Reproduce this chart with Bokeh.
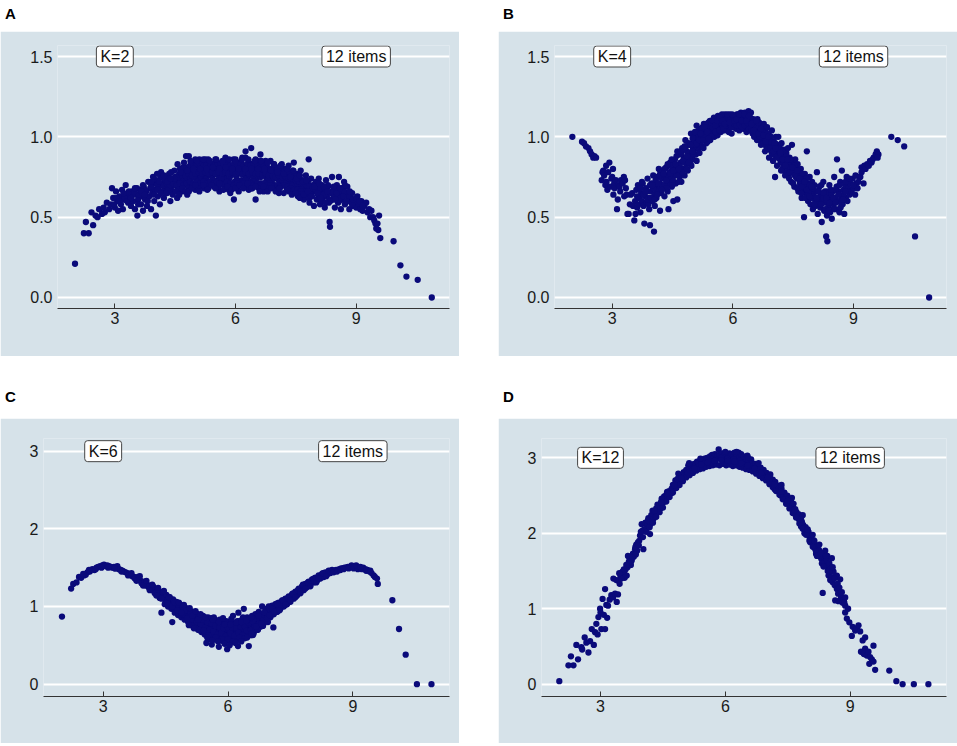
from bokeh.plotting import figure
from bokeh.models import Range1d, FixedTicker, PrintfTickFormatter, Label, Div, ColumnDataSource
from bokeh.layouts import column, row
from bokeh.embed import file_html
from bokeh.resources import INLINE

BG = "#d6e2e9"
DOT = "#0a0a7a"
FONT = "Liberation Sans"

panel_letters = ["A", "B", "C", "D"]
k_labels = ["K=2", "K=4", "K=6", "K=12"]
items_label = "12 items"
x_ticks = [3, 6, 9]
y_ticks_ab = [0, 0.5, 1.0, 1.5]
y_ticks_cd = [0, 1, 2, 3]

# ---------------- Panel A (K=2) ----------------
a_main = [
(2.01,0.21),(2.23,0.40),(2.35,0.40),(2.28,0.47),(2.46,0.45),(2.42,0.53),(2.52,0.51),(2.61,0.55),(2.57,0.50),(2.68,0.52),
(2.72,0.56),(2.80,0.59),(2.75,0.53),(2.86,0.55),(2.90,0.58),(2.93,0.68),(2.96,0.62),(3.00,0.56),(3.03,0.66),(3.06,0.60),
(3.08,0.54),(3.12,0.63),(3.15,0.58),(3.18,0.67),(3.20,0.55),(3.22,0.61),(3.27,0.70),(3.30,0.64),(3.33,0.59),(3.36,0.62),
(3.40,0.57),(3.43,0.66),(3.46,0.60),(3.50,0.55),(3.53,0.64),(3.56,0.51),(3.58,0.61),(3.62,0.67),(3.65,0.58),(3.68,0.63),
(3.70,0.54),(3.72,0.69),(3.75,0.61),(3.78,0.66),(3.80,0.57),(3.83,0.72),(3.86,0.63),(3.88,0.68),(3.90,0.55),(3.93,0.65),
(3.95,0.71),(3.98,0.60),(4.02,0.51),(4.00,0.67),(4.04,0.73),(4.07,0.63),(4.10,0.69),(4.12,0.58),(4.15,0.75),(4.18,0.66),
(4.20,0.71),(4.22,0.62),(4.25,0.68),(4.28,0.74),(4.30,0.65),(4.33,0.71),(4.35,0.77),(4.38,0.60),(4.40,0.69),(4.43,0.73),
(4.45,0.66),(4.48,0.79),(4.50,0.70),(4.52,0.75),(4.55,0.62),(4.57,0.68),(4.60,0.77),(4.62,0.72),(4.65,0.80),(4.67,0.66),
(4.70,0.74),(4.72,0.70),(4.75,0.78),(4.77,0.88),(4.80,0.64),(4.82,0.73),(4.84,0.88),(4.85,0.81),(4.87,0.69),(4.90,0.76),
(4.92,0.84),(4.95,0.71),(4.97,0.79),(5.00,0.67),(5.02,0.74),(5.05,0.82),(5.07,0.77),(5.10,0.86),(5.12,0.70),(5.15,0.79),
(5.17,0.74),(5.20,0.83),(5.22,0.68),(5.25,0.76),(5.27,0.81),(5.30,0.72),(5.32,0.86),(5.35,0.78),(5.37,0.70),(5.40,0.83),
(5.42,0.75),(5.45,0.80),(5.47,0.69),(5.50,0.77),(5.52,0.85),(5.55,0.73),(5.57,0.81),(5.60,0.66),(5.62,0.78),(5.65,0.84),
(5.67,0.72),(5.70,0.80),(5.72,0.75),(5.75,0.87),(5.77,0.70),(5.80,0.79),(5.82,0.83),(5.85,0.74),(5.87,0.65),(5.90,0.81),
(5.92,0.77),(5.95,0.86),(5.96,0.61),(5.98,0.72),(6.00,0.80),(6.02,0.75),(6.05,0.84),(6.07,0.69),(6.10,0.78),(6.12,0.82),
(6.15,0.73),(6.17,0.87),(6.20,0.77),(6.22,0.70),(6.25,0.91),(6.27,0.81),(6.30,0.75),(6.32,0.85),(6.35,0.72),(6.37,0.79),
(6.39,0.93),(6.40,0.83),(6.42,0.68),(6.45,0.77),(6.47,0.81),(6.50,0.61),(6.52,0.74),(6.55,0.85),(6.57,0.79),(6.60,0.71),
(6.62,0.89),(6.65,0.76),(6.67,0.82),(6.70,0.66),(6.72,0.78),(6.75,0.84),(6.77,0.73),(6.80,0.80),(6.82,0.69),(6.85,0.76),
(6.87,0.85),(6.90,0.72),(6.92,0.79),(6.95,0.83),(6.97,0.70),(7.00,0.77),(7.02,0.81),(7.05,0.74),(7.08,0.65),(7.10,0.79),
(7.12,0.72),(7.15,0.83),(7.17,0.76),(7.20,0.70),(7.22,0.80),(7.25,0.74),(7.27,0.68),(7.30,0.78),(7.32,0.82),(7.35,0.71),
(7.37,0.76),(7.40,0.66),(7.42,0.79),(7.45,0.84),(7.47,0.73),(7.50,0.69),(7.52,0.77),(7.55,0.63),(7.57,0.74),(7.60,0.70),
(7.62,0.79),(7.65,0.66),(7.67,0.73),(7.70,0.61),(7.72,0.70),(7.75,0.76),(7.77,0.64),(7.80,0.72),(7.82,0.86),(7.84,0.59),
(7.86,0.68),(7.88,0.74),(7.90,0.63),(7.92,0.70),(7.95,0.57),(7.97,0.66),(8.00,0.72),(8.02,0.61),(8.05,0.68),(8.07,0.74),
(8.10,0.58),(8.12,0.65),(8.15,0.70),(8.17,0.62),(8.20,0.67),(8.22,0.56),(8.25,0.73),(8.27,0.63),(8.30,0.69),(8.32,0.59),
(8.34,0.47),(8.35,0.44),(8.37,0.65),(8.40,0.75),(8.42,0.61),(8.45,0.67),(8.47,0.56),(8.50,0.63),(8.52,0.70),(8.55,0.59),
(8.57,0.75),(8.60,0.64),(8.62,0.55),(8.65,0.68),(8.67,0.61),(8.70,0.72),(8.72,0.58),(8.75,0.65),(8.78,0.69),(8.80,0.60),
(8.83,0.55),(8.85,0.63),(8.88,0.59),(8.90,0.65),(8.93,0.57),(8.96,0.61),(9.00,0.56),(9.03,0.63),(9.06,0.58),(9.10,0.55),
(9.13,0.60),(9.16,0.54),(9.20,0.57),(9.25,0.59),(9.28,0.53),(9.32,0.55),(9.35,0.50),(9.38,0.54),(9.42,0.50),(9.45,0.48),
(9.48,0.46),(9.50,0.43),(9.53,0.46),(9.55,0.42),(9.57,0.51),(9.60,0.37),(9.93,0.35),(10.10,0.20),(10.25,0.13),(10.53,0.11),
(10.88,0.00),
]
a_core = [
(4.53,0.72),(4.58,0.74),(4.63,0.70),(4.68,0.76),(4.73,0.72),(4.78,0.75),(4.83,0.77),(4.88,0.74),(4.93,0.78),(4.98,0.75),
(5.03,0.78),(5.08,0.73),(5.13,0.76),(5.18,0.79),(5.23,0.78),(5.28,0.75),(5.33,0.80),(5.38,0.76),(5.43,0.78),(5.48,0.82),
(5.53,0.79),(5.58,0.76),(5.63,0.81),(5.68,0.77),(5.73,0.79),(5.78,0.82),(5.83,0.78),(5.88,0.76),(5.93,0.79),(5.97,0.83),
(6.03,0.78),(6.08,0.81),(6.13,0.77),(6.18,0.80),(6.23,0.76),(6.28,0.79),(6.33,0.77),(6.38,0.81),(6.43,0.75),(6.48,0.79),
(6.53,0.77),(6.58,0.82),(6.63,0.75),(6.68,0.79),(6.73,0.76),(6.78,0.77),(6.83,0.74),(6.88,0.78),(6.93,0.75),(6.98,0.74),
(7.03,0.77),(7.08,0.73),(7.13,0.76),(7.18,0.73),(7.23,0.77),(7.28,0.72),(7.33,0.74),(7.38,0.73),(7.43,0.70),(7.48,0.76),
(7.53,0.71),(7.58,0.67),(7.63,0.72),(7.68,0.69),(7.73,0.66),(7.78,0.69),(4.47,0.70),(4.42,0.66),(4.37,0.69),(4.32,0.68),
(4.27,0.65),(4.23,0.70),(5.05,0.70),(5.25,0.72),(5.45,0.73),(5.65,0.74),(5.85,0.70),(6.05,0.72),(6.25,0.73),(6.45,0.72),
(6.65,0.71),(6.85,0.71),(5.15,0.84),(5.35,0.84),(5.55,0.83),(5.75,0.84),(5.95,0.82),(6.15,0.84),(6.35,0.83),(6.55,0.82),
(6.75,0.80),(6.95,0.80),(7.15,0.80),(4.85,0.70),(4.65,0.74),(7.35,0.68),(7.55,0.73),(7.85,0.65),(8.05,0.64),(8.25,0.66),
(8.45,0.63),(8.65,0.64),(8.15,0.60),(8.55,0.66),
]
a_fill = [
(4.21,0.70),(4.29,0.71),(4.37,0.70),(4.46,0.71),(4.54,0.70),(4.62,0.71),(4.71,0.70),(4.79,0.71),(4.87,0.72),(4.96,0.71),
(5.04,0.72),(5.12,0.71),(5.21,0.72),(5.29,0.71),(5.37,0.72),(5.46,0.71),(5.54,0.72),(5.62,0.71),(5.71,0.70),(5.79,0.72),
(5.87,0.71),(5.96,0.70),(6.04,0.71),(6.12,0.70),(6.21,0.71),(6.29,0.70),(6.37,0.71),(6.46,0.70),(6.54,0.71),(6.62,0.70),
(6.71,0.71),(6.79,0.70),(6.87,0.70),(6.96,0.69),(7.04,0.70),(7.12,0.69),(7.21,0.70),(7.29,0.69),(7.37,0.68),(7.46,0.67),
(7.54,0.67),(7.62,0.66),
(4.25,0.73),(4.33,0.74),(4.42,0.74),(4.50,0.75),(4.58,0.75),(4.67,0.76),(4.75,0.76),(4.83,0.77),(4.92,0.76),(5.00,0.77),
(5.08,0.78),(5.17,0.77),(5.25,0.78),(5.33,0.77),(5.42,0.78),(5.50,0.77),(5.58,0.78),(5.67,0.77),(5.75,0.78),(5.83,0.77),
(5.92,0.78),(6.00,0.77),(6.08,0.78),(6.17,0.77),(6.25,0.78),(6.33,0.77),(6.42,0.78),(6.50,0.77),(6.58,0.77),(6.67,0.76),
(6.75,0.77),(6.83,0.76),(6.92,0.76),(7.00,0.75),(7.08,0.76),(7.17,0.75),(7.25,0.75),(7.33,0.74),(7.42,0.74),(7.50,0.73),
(7.58,0.72),(7.67,0.71),(7.75,0.70),(7.83,0.69),(7.92,0.68),(8.00,0.67),
(4.62,0.80),(4.70,0.81),(4.79,0.81),(4.87,0.82),(4.96,0.82),(5.04,0.83),(5.12,0.83),(5.21,0.82),(5.29,0.83),(5.37,0.82),
(5.46,0.83),(5.54,0.82),(5.62,0.83),(5.71,0.82),(5.79,0.83),(5.87,0.82),(5.96,0.83),(6.04,0.82),(6.12,0.83),(6.21,0.82),
(6.29,0.83),(6.37,0.82),(6.46,0.83),(6.54,0.82),(6.62,0.81),(6.71,0.82),(6.79,0.81),(6.87,0.80),(6.96,0.81),(7.04,0.80),
(7.12,0.79),(7.21,0.79),(7.29,0.78),(7.37,0.77),
(4.58,0.67),(4.83,0.68),(5.08,0.68),(5.33,0.68),(5.58,0.69),(5.83,0.67),(6.08,0.66),(6.33,0.67),(6.58,0.68),(6.83,0.68),
(7.08,0.68),(7.33,0.66),(7.58,0.64),(7.83,0.62),(8.08,0.62),(8.33,0.61),(8.58,0.60),
(5.00,0.86),(5.25,0.86),(5.50,0.86),(5.75,0.86),(6.00,0.86),(6.25,0.87),(6.50,0.86),(6.75,0.85),
(8.00,0.70),(8.20,0.64),(8.40,0.66),(8.60,0.62),(8.80,0.63),(9.00,0.60),(8.10,0.68),(8.30,0.70),(8.50,0.68),(8.70,0.66),
(8.90,0.58),
(3.05,0.62),(3.25,0.62),(3.45,0.64),(3.60,0.64),(3.75,0.67),(3.90,0.69),(4.05,0.70),(3.35,0.66),(3.55,0.68),(3.95,0.75),
(4.15,0.78),(4.05,0.77),
]
a_more = [
(4.40,0.78),(4.48,0.74),(4.56,0.83),(4.64,0.78),(4.72,0.84),(4.80,0.79),(4.88,0.85),(4.96,0.80),(5.04,0.85),(5.12,0.80),
(5.20,0.86),(5.28,0.80),(5.36,0.85),(5.44,0.81),(5.52,0.86),(5.60,0.80),(5.68,0.85),(5.76,0.81),(5.84,0.86),(5.92,0.80),
(6.00,0.85),(6.08,0.80),(6.16,0.86),(6.24,0.80),(6.32,0.86),(6.40,0.80),(6.48,0.85),(6.56,0.80),(6.64,0.85),(6.72,0.80),
(6.80,0.84),(6.88,0.79),(6.96,0.83),(7.04,0.78),(7.12,0.82),(7.20,0.77),(7.28,0.80),(7.36,0.75),(7.44,0.79),(7.52,0.74),
(7.60,0.76),(7.68,0.72),(7.76,0.73),
(4.44,0.64),(4.52,0.66),(4.60,0.64),(4.68,0.68),(4.76,0.66),(4.84,0.66),(4.92,0.68),(5.00,0.70),(5.10,0.66),(5.20,0.70),
(5.30,0.67),(5.40,0.70),(5.50,0.68),(5.60,0.71),(5.70,0.67),(5.80,0.69),(5.90,0.67),(6.00,0.68),(6.10,0.70),(6.20,0.68),
(6.30,0.71),(6.40,0.68),(6.50,0.69),(6.60,0.66),(6.70,0.69),(6.80,0.66),(6.90,0.68),(7.00,0.66),(7.10,0.68),(7.20,0.65),
(7.30,0.67),(7.40,0.64),(7.50,0.65),(7.60,0.62),(7.70,0.64),
(7.80,0.66),(7.88,0.63),(7.96,0.69),(8.04,0.65),(8.12,0.62),(8.20,0.69),(8.28,0.66),(8.36,0.60),(8.44,0.69),(8.52,0.65),
(8.60,0.68),(8.68,0.63),(8.76,0.60),(8.84,0.66),(8.92,0.61),(9.00,0.62),(9.08,0.60),(9.16,0.57),(8.24,0.59),(8.48,0.61),
(8.72,0.70),(8.08,0.71),
(2.98,0.58),(3.10,0.60),(3.22,0.65),(3.30,0.60),(3.40,0.62),(3.48,0.66),(3.58,0.58),(3.66,0.66),(3.74,0.64),(3.82,0.60),
(3.90,0.72),(3.98,0.64),(4.06,0.67),(4.14,0.65),(4.22,0.76),(4.30,0.72),(4.38,0.74),(3.70,0.70),(3.50,0.68),(4.10,0.72),
]

# ---------------- Panel B (K=4) ----------------
b_main = [
(2.01,1.00),(2.25,0.97),(2.30,0.96),(2.35,0.94),(2.41,0.93),(2.45,0.91),(2.49,0.89),(2.53,0.87),(2.56,0.88),(2.60,0.87),
(2.74,0.73),(2.76,0.78),(2.78,0.79),(2.80,0.76),(2.83,0.70),(2.85,0.82),(2.86,0.72),(2.88,0.67),(2.90,0.78),(2.93,0.84),
(2.95,0.69),(2.98,0.74),(3.00,0.75),(3.02,0.80),(3.03,0.64),(3.05,0.71),(3.06,0.68),(3.09,0.73),(3.12,0.55),(3.14,0.61),
(3.16,0.70),(3.18,0.69),(3.20,0.66),(3.22,0.73),(3.26,0.71),(3.29,0.75),(3.30,0.63),(3.32,0.73),(3.34,0.68),(3.36,0.64),
(3.38,0.52),(3.41,0.52),(3.44,0.58),(3.46,0.64),(3.50,0.65),(3.52,0.57),(3.55,0.48),(3.57,0.60),(3.60,0.67),(3.62,0.56),
(3.64,0.70),(3.66,0.58),(3.68,0.62),(3.70,0.53),(3.72,0.65),(3.74,0.60),(3.76,0.71),(3.78,0.57),(3.80,0.46),(3.82,0.63),
(3.84,0.68),(3.86,0.59),(3.88,0.74),(3.90,0.62),(3.92,0.55),(3.94,0.45),(3.96,0.66),(3.98,0.71),(4.00,0.60),(4.02,0.76),
(4.04,0.41),(4.05,0.64),(4.08,0.69),(4.10,0.62),(4.12,0.75),(4.14,0.67),(4.16,0.80),(4.18,0.71),(4.19,0.54),(4.22,0.65),
(4.24,0.74),(4.26,0.79),(4.28,0.69),(4.30,0.63),(4.32,0.76),(4.34,0.81),(4.36,0.72),(4.38,0.66),(4.40,0.55),(4.42,0.78),
(4.44,0.84),(4.46,0.73),(4.48,0.69),(4.50,0.80),(4.52,0.60),(4.54,0.76),(4.56,0.86),(4.58,0.71),(4.60,0.82),(4.62,0.61),
(4.64,0.77),(4.66,0.89),(4.68,0.75),(4.70,0.84),(4.72,0.72),(4.74,0.93),(4.76,0.80),(4.78,0.87),(4.80,0.76),(4.82,0.98),
(4.84,0.83),(4.86,0.91),(4.88,0.79),(4.90,0.88),(4.92,0.95),(4.94,0.84),(4.96,1.02),(4.98,0.90),(5.00,0.86),(5.02,0.96),
(5.04,0.92),(5.06,1.00),(5.08,0.89),(5.10,1.07),(5.12,0.97),(5.14,0.93),(5.16,1.02),(5.18,0.95),(5.20,1.05),(5.22,0.99),
(5.24,0.94),(5.26,1.03),(5.28,1.08),(5.30,0.98),(5.32,1.04),(5.34,0.96),(5.36,1.07),(5.38,1.01),(5.40,1.09),(5.42,1.03),
(5.44,0.98),(5.46,1.06),(5.48,1.10),(5.50,1.02),(5.52,1.07),(5.54,1.00),(5.56,1.11),(5.58,1.05),(5.60,1.09),(5.62,1.01),
(5.64,1.12),(5.66,1.06),(5.68,1.10),(5.70,1.03),(5.72,1.13),(5.74,1.07),(5.76,1.11),(5.78,1.04),(5.80,1.14),(5.82,1.08),
(5.84,1.12),(5.86,1.06),(5.88,1.10),(5.90,1.03),(5.92,1.14),(5.94,1.08),(5.96,1.12),(5.97,1.02),(6.00,1.09),(6.02,1.13),
(6.04,1.06),(6.06,1.11),(6.08,1.05),(6.10,1.14),(6.12,1.08),(6.14,1.12),(6.16,1.04),(6.18,1.10),(6.20,1.15),(6.22,1.07),
(6.24,1.12),(6.26,1.05),(6.28,1.10),(6.30,1.15),(6.32,1.08),(6.34,1.03),(6.36,1.12),(6.38,1.06),(6.39,1.16),(6.41,1.10),
(6.43,1.04),(6.45,1.15),(6.47,1.08),(6.49,1.02),(6.51,1.11),(6.53,1.06),(6.55,1.09),(6.57,1.01),(6.59,1.07),(6.61,1.11),
(6.63,1.04),(6.65,0.98),(6.67,1.08),(6.69,1.02),(6.71,1.06),(6.73,0.97),(6.75,1.04),(6.77,1.08),(6.79,0.99),(6.81,1.03),
(6.83,0.94),(6.85,1.06),(6.87,0.98),(6.89,1.02),(6.91,0.92),(6.93,1.00),(6.95,0.95),(6.97,1.04),(6.99,0.89),(7.01,0.97),
(7.03,0.93),(7.05,0.75),(7.07,1.00),(7.09,0.90),(7.11,0.95),(7.13,1.00),(7.15,0.87),(7.17,0.93),(7.19,0.84),(7.21,0.96),
(7.23,0.89),(7.25,0.81),(7.27,0.92),(7.29,0.86),(7.31,0.78),(7.33,0.90),(7.35,0.84),(7.37,0.93),(7.39,0.76),(7.41,0.87),
(7.43,0.81),(7.45,0.72),(7.47,0.95),(7.49,0.84),(7.51,0.78),(7.53,0.69),(7.55,0.86),(7.57,0.80),(7.59,0.74),(7.61,0.83),
(7.63,0.66),(7.65,0.77),(7.67,0.71),(7.69,0.80),(7.71,0.62),(7.73,0.74),(7.75,0.68),(7.77,0.50),(7.79,0.77),(7.81,0.65),
(7.84,0.91),(7.85,0.71),(7.87,0.60),(7.89,0.68),(7.91,0.75),(7.93,0.58),(7.95,0.65),(7.97,0.72),(7.99,0.55),(8.01,0.63),
(8.03,0.70),(8.05,0.57),(8.07,0.66),(8.09,0.78),(8.11,0.52),(8.13,0.61),(8.15,0.69),(8.17,0.56),(8.19,0.64),(8.21,0.47),
(8.23,0.60),(8.25,0.72),(8.27,0.54),(8.29,0.66),(8.31,0.59),(8.32,0.38),(8.34,0.51),(8.35,0.35),(8.36,0.63),(8.38,0.57),
(8.40,0.70),(8.42,0.53),(8.44,0.61),(8.46,0.49),(8.48,0.66),(8.50,0.58),(8.52,0.75),(8.54,0.62),(8.56,0.55),(8.58,0.69),
(8.59,0.86),(8.61,0.60),(8.63,0.66),(8.65,0.53),(8.67,0.72),(8.69,0.63),(8.71,0.79),(8.73,0.58),(8.75,0.67),(8.77,0.52),
(8.79,0.70),(8.81,0.62),(8.83,0.75),(8.85,0.60),(8.87,0.68),(8.90,0.64),(8.92,0.71),(8.95,0.66),(8.98,0.74),(9.01,0.68),
(9.04,0.64),(9.07,0.71),(9.10,0.68),(9.14,0.75),(9.17,0.75),(9.20,0.81),(9.25,0.71),(9.27,0.82),(9.30,0.80),(9.34,0.83),
(9.38,0.82),(9.41,0.85),(9.45,0.84),(9.48,0.86),(9.50,0.87),(9.55,0.89),(9.58,0.91),(9.62,0.89),(9.60,0.87),
(9.94,1.00),(10.10,0.98),(10.26,0.94),(10.53,0.38),(10.88,0.00),
]
b_core = [
(5.01,0.93),(5.11,0.99),(5.21,1.01),(5.31,1.02),(5.41,1.05),(5.51,1.06),(5.61,1.07),(5.71,1.08),(5.81,1.10),(5.91,1.10),
(6.01,1.11),(6.11,1.10),(6.21,1.10),(6.31,1.11),(6.41,1.07),(6.51,1.06),(6.61,1.05),(6.71,1.03),(6.81,1.00),(6.91,0.97),
(7.01,0.94),(7.11,0.91),(7.21,0.88),(7.31,0.85),(7.41,0.82),(7.51,0.80),(4.71,0.80),(4.81,0.85),(4.91,0.90),(5.05,0.96),
(5.15,1.04),(5.25,1.06),(5.35,1.00),(5.45,1.08),(5.55,1.04),(5.65,1.10),(5.75,1.06),(5.85,1.09),(5.95,1.06),(6.05,1.08),
(6.15,1.07),(6.25,1.09),(6.35,1.09),(6.45,1.10),(6.55,1.03),(6.65,1.09),(6.75,1.00),(6.85,1.02),(6.95,1.00),(7.05,0.96),
(7.15,0.90),(7.25,0.86),(4.61,0.76),(4.51,0.73),(4.41,0.70),(4.31,0.70),(4.21,0.68),(4.11,0.66),(7.61,0.76),(7.71,0.72),
]
b_fill = [
(4.20,0.78),(4.25,0.70),(4.30,0.80),(4.35,0.68),(4.40,0.75),(4.45,0.82),(4.50,0.70),(4.55,0.79),(4.60,0.88),(4.65,0.72),
(4.68,0.82),(4.72,0.90),(4.75,0.78),(4.80,0.86),(4.83,0.94),(4.86,0.80),(4.90,0.96),(4.93,0.87),(4.97,0.82),(5.00,0.99),
(5.03,0.89),(5.07,0.95),(5.10,0.85),(5.13,1.02),(5.17,0.90),(5.20,0.97),(5.23,1.05),(5.27,0.93),(5.30,1.01),(5.33,1.08),
(5.37,0.97),(5.40,1.03),(5.43,1.10),(5.47,1.00),(5.50,1.06),(5.53,1.12),(5.57,1.03),(5.60,1.08),(5.63,1.13),(5.67,1.04),
(5.70,1.09),(5.73,1.14),(5.77,1.05),(5.80,1.11),(5.83,1.07),(5.87,1.13),(5.90,1.08),(5.93,1.11),(5.97,1.06),(6.00,1.13),
(6.03,1.08),(6.07,1.12),(6.10,1.07),(6.13,1.14),(6.17,1.08),(6.20,1.12),(6.23,1.06),(6.27,1.13),(6.30,1.07),(6.33,1.12),
(6.37,1.09),(6.40,1.05),(6.43,1.12),(6.47,1.04),(6.50,1.09),(6.53,1.00),(6.57,1.06),(6.60,0.98),(6.63,1.09),(6.67,1.00),
(6.70,0.95),(6.73,1.04),(6.77,0.96),(6.80,0.91),(6.83,1.00),(6.87,0.93),(6.90,0.87),(6.93,0.97),(6.97,0.90),(7.00,0.85),
(7.03,0.96),(7.07,0.88),(7.10,0.82),(7.13,0.93),(7.17,0.86),(7.20,0.79),(7.23,0.91),(7.27,0.84),(7.30,0.76),(7.33,0.88),
(7.37,0.81),(7.40,0.74),(7.43,0.86),(7.47,0.78),(7.50,0.71),(7.53,0.82),(7.57,0.75),(7.60,0.68),(7.63,0.79),(7.67,0.72),
(7.70,0.65),(7.73,0.77),(7.77,0.69),(7.80,0.62),(7.83,0.74),(7.87,0.66),(7.90,0.70),(7.95,0.62),(8.00,0.68),(8.05,0.60),
(8.10,0.66),(8.15,0.58),(8.20,0.70),(8.25,0.62),(8.30,0.55),(8.35,0.66),(8.40,0.59),(8.45,0.64),(8.50,0.55),(8.55,0.67),
(8.60,0.60),(8.65,0.70),(8.70,0.58),(8.75,0.64),(8.80,0.72),(8.85,0.66),(8.90,0.74),(9.00,0.70),(9.05,0.76),(9.12,0.72),
(9.20,0.78),
(3.62,0.63),(3.70,0.68),(3.78,0.64),(3.86,0.66),(3.94,0.70),(4.02,0.68),(4.08,0.73),(4.14,0.71),(3.74,0.72),(3.90,0.58),
(4.06,0.57),(3.58,0.52),
]
b_more = [
(3.82,0.66),(3.88,0.61),(3.96,0.62),(4.00,0.70),(4.06,0.61),(4.12,0.64),(4.18,0.76),(4.24,0.67),(4.28,0.77),(4.34,0.73),
(4.38,0.83),(4.44,0.77),(4.48,0.86),(4.52,0.79),(4.58,0.83),(4.62,0.91),(4.66,0.80),(4.70,0.91),(4.76,0.85),(4.80,0.94),
(4.86,0.88),(4.90,0.84),(4.96,0.95),(5.00,0.91),(5.06,1.03),(5.10,0.96),(5.16,0.98),(5.20,1.02),(5.26,0.98),(5.30,1.06),
(5.36,1.03),(5.40,0.99),(5.46,1.09),(5.50,1.10),(5.56,1.07),(5.62,1.10),(5.68,1.12),(5.74,1.10),(5.80,1.08),(5.86,1.14),
(5.92,1.09),(5.98,1.14),(6.04,1.10),(6.10,1.11),(6.16,1.14),(6.22,1.10),(6.28,1.14),(6.34,1.10),(6.40,1.13),(6.46,1.08),
(6.52,1.04),(6.58,1.10),(6.64,1.02),(6.70,1.05),(6.76,1.01),(6.82,0.97),(6.88,1.00),(6.94,0.93),(7.00,0.91),(7.06,0.93),
(7.12,0.87),(7.18,0.90),(7.24,0.86),(7.30,0.82),(7.36,0.86),(7.42,0.78),(7.48,0.81),(7.54,0.76),(7.60,0.79),(7.66,0.74),
(7.72,0.69),(7.78,0.72),(7.84,0.67),(7.90,0.63),(7.96,0.69),(8.02,0.58),(8.08,0.62),(8.14,0.66),(8.20,0.58),(8.26,0.65),
(8.32,0.62),(8.38,0.54),(8.44,0.67),(8.50,0.62),(8.56,0.59),(8.62,0.64),(8.68,0.56),(8.74,0.61),(8.80,0.66),
]

# ---------------- Panel C (K=6) ----------------
c_main = [
(2.01,0.87),(2.23,1.23),(2.28,1.29),(2.36,1.31),(2.42,1.38),(2.47,1.37),(2.54,1.40),(2.58,1.41),(2.62,1.44),(2.68,1.45),
(2.74,1.48),(2.79,1.47),(2.84,1.50),(2.88,1.51),(2.93,1.52),(2.98,1.53),(3.02,1.54),(3.06,1.52),(3.10,1.53),(3.14,1.52),
(3.18,1.51),(3.22,1.50),(3.26,1.51),(3.30,1.49),(3.34,1.52),(3.38,1.48),(3.42,1.47),(3.46,1.46),(3.50,1.45),(3.54,1.44),
(3.58,1.43),(3.62,1.42),(3.66,1.41),(3.70,1.39),(3.74,1.38),(3.78,1.37),(3.82,1.35),(3.86,1.36),(3.90,1.33),(3.94,1.32),
(3.98,1.30),(4.02,1.27),(4.06,1.28),(4.10,1.24),(4.14,1.25),(4.18,1.21),(4.22,1.22),(4.26,1.18),(4.30,1.20),(4.34,1.15),
(4.38,1.17),(4.40,0.92),(4.42,1.12),(4.46,1.14),(4.50,1.08),(4.54,1.10),(4.58,1.05),(4.62,1.07),(4.66,0.80),(4.70,1.03),
(4.74,0.99),(4.78,1.01),(4.82,0.96),(4.86,0.98),(4.90,0.93),(4.94,0.95),(4.98,0.90),(5.02,0.92),(5.06,0.87),(5.10,0.89),
(5.14,0.84),(5.18,0.86),(5.22,0.81),(5.26,0.83),(5.30,0.79),(5.34,0.81),(5.38,0.77),(5.42,0.79),(5.46,0.75),(5.48,0.53),
(5.50,0.77),(5.54,0.73),(5.58,0.75),(5.61,0.51),(5.62,0.71),(5.66,0.73),(5.70,0.69),(5.74,0.71),(5.78,0.48),(5.80,0.68),
(5.84,0.70),(5.88,0.66),(5.92,0.69),(5.96,0.65),(5.98,0.45),(6.00,0.68),(6.04,0.64),(6.08,0.67),(6.12,0.65),(6.16,0.68),
(6.20,0.66),(6.24,0.49),(6.25,0.92),(6.28,0.69),(6.32,0.67),(6.36,0.71),(6.38,0.97),(6.40,0.69),(6.44,0.73),(6.48,0.71),
(6.50,0.49),(6.52,0.75),(6.56,0.74),(6.60,0.78),(6.64,0.77),(6.68,0.81),(6.72,0.80),(6.76,0.84),(6.80,0.83),(6.82,1.00),
(6.84,0.87),(6.88,0.87),(6.92,0.90),(6.96,0.91),(7.00,0.94),(7.04,0.95),(7.08,0.98),(7.09,0.73),
(7.12,0.96),(7.16,0.98),(7.20,0.99),(7.24,1.01),(7.28,1.03),(7.32,1.04),(7.36,1.05),(7.40,1.06),(7.44,1.08),(7.48,1.09),
(7.52,1.11),(7.56,1.13),(7.60,1.15),(7.64,1.17),(7.68,1.18),(7.72,1.20),(7.76,1.22),(7.80,1.24),(7.84,1.25),(7.88,1.27),
(7.92,1.28),(7.96,1.30),(8.00,1.31),(8.04,1.32),(8.08,1.34),(8.12,1.35),(8.16,1.37),(8.20,1.38),(8.24,1.39),(8.28,1.40),
(8.32,1.41),(8.36,1.42),(8.40,1.43),(8.44,1.44),(8.48,1.45),(8.52,1.45),(8.56,1.46),(8.60,1.47),(8.64,1.47),(8.68,1.48),
(8.72,1.49),(8.76,1.49),(8.80,1.50),(8.84,1.50),(8.88,1.51),(8.92,1.51),(8.97,1.53),(9.00,1.51),(9.05,1.50),(9.10,1.51),
(9.15,1.50),(9.20,1.49),(9.25,1.50),(9.30,1.48),(9.35,1.47),(9.40,1.45),(9.45,1.43),(9.50,1.40),(9.53,1.38),(9.58,1.36),
(9.60,1.29),(9.95,1.08),(10.11,0.71),(10.27,0.38),(10.54,0.00),(10.89,0.00),
]
c_fill = [
(4.20,1.26),(4.24,1.17),(4.32,1.22),(4.36,1.11),(4.44,1.19),(4.48,1.03),(4.52,1.15),(4.56,1.00),(4.60,1.12),(4.64,0.97),
(4.68,1.09),(4.72,0.92),(4.76,1.06),(4.80,0.89),(4.84,1.03),(4.88,0.86),(4.92,1.00),(4.96,0.83),(5.00,0.98),(5.04,0.80),
(5.08,0.95),(5.12,0.76),(5.16,0.93),(5.20,0.74),(5.24,0.91),(5.28,0.70),(5.32,0.89),(5.36,0.67),(5.40,0.88),(5.44,0.64),
(5.52,0.86),(5.56,0.62),(5.60,0.85),(5.64,0.60),(5.68,0.83),(5.72,0.58),(5.76,0.81),(5.82,0.56),(5.86,0.79),(5.90,0.55),
(5.94,0.80),(5.99,0.57),(6.02,0.78),(6.06,0.54),(6.10,0.80),(6.14,0.56),(6.18,0.77),(6.22,0.57),(6.27,0.81),(6.30,0.58),
(6.34,0.83),(6.42,0.62),(6.46,0.86),(6.54,0.63),(6.58,0.88),(6.62,0.66),(6.66,0.90),(6.70,0.70),(6.74,0.93),(6.78,0.74),
(6.86,0.78),(6.90,0.97),(6.94,0.82),(6.98,1.00),(7.02,0.86),(7.06,1.01),(7.10,0.90),(7.14,1.03),(7.18,0.93),(7.22,1.05),
(7.26,0.97),(7.30,1.08),(7.34,1.00),(7.38,1.10),(7.42,1.03),(7.46,1.13),(7.50,1.06),(7.54,1.16),(7.58,1.10),(7.62,1.19),
(7.66,1.14),(7.70,1.23),(7.74,1.17),(7.78,1.26),(7.82,1.21),(7.86,1.29),(7.90,1.25),(7.94,1.32),(7.98,1.28),(8.02,1.35),
(8.06,1.31),(8.10,1.37),(8.14,1.33),(8.18,1.40),(8.22,1.36),(8.26,1.42),(8.30,1.38),(8.34,1.44),(8.38,1.41),(8.42,1.46),
(8.46,1.43),(8.50,1.47),(8.54,1.44),(8.62,1.45),(8.70,1.47),(8.78,1.48),
(5.50,0.70),(5.55,0.80),(5.65,0.66),(5.75,0.76),(5.85,0.63),(5.95,0.73),(6.05,0.61),(6.15,0.72),(6.25,0.62),(6.35,0.75),
(6.45,0.66),(6.55,0.81),(6.65,0.71),(6.75,0.88),(5.45,0.84),(5.35,0.74),(5.25,0.77),(5.15,0.80),(5.05,0.83),(4.95,0.88),
(5.85,0.75),(6.05,0.71),(6.20,0.75),(5.70,0.78),(5.60,0.66),(6.40,0.78),(6.60,0.72),(6.85,0.91),(6.95,0.87),(5.90,0.60),
(6.10,0.59),(6.30,0.64),(5.80,0.62),(5.40,0.71),(5.20,0.78),(4.90,0.90),(6.50,0.69),(6.70,0.76),
(2.52,1.42),(2.66,1.47),(2.82,1.48),(2.96,1.50),(3.12,1.50),(3.28,1.49),(3.44,1.45),(3.60,1.40),(3.76,1.36),(3.92,1.30),
(4.08,1.26),(3.68,1.43),(3.84,1.38),(4.00,1.32),(4.16,1.24),
(8.90,1.49),(9.02,1.49),(9.12,1.48),(9.22,1.48),(9.32,1.46),(9.42,1.46),(9.08,1.53),(9.18,1.51),
]
c_core = [
(4.60,1.10),(4.65,1.02),(4.70,1.07),(4.75,0.99),(4.80,1.02),(4.85,0.94),(4.90,0.99),(4.95,0.90),(5.00,0.95),(5.05,0.87),
(5.10,0.92),(5.15,0.83),(5.20,0.89),(5.25,0.80),(5.30,0.86),(5.35,0.77),(5.40,0.83),(5.45,0.73),(5.50,0.80),(5.55,0.70),
(5.60,0.78),(5.65,0.68),(5.70,0.75),(5.75,0.64),(5.80,0.73),(5.85,0.66),(5.90,0.72),(5.95,0.62),(6.00,0.72),(6.05,0.66),
(6.10,0.73),(6.15,0.62),(6.20,0.72),(6.25,0.66),(6.30,0.74),(6.35,0.63),(6.40,0.75),(6.45,0.69),(6.50,0.79),(6.55,0.70),
(6.60,0.81),(6.65,0.74),(6.70,0.85),(6.75,0.78),(6.80,0.88),(6.85,0.82),(6.90,0.93),(6.95,0.86),(7.00,0.96),(7.05,0.90),
(7.10,0.98),(7.15,0.95),(7.20,1.02),(7.25,0.99),(7.30,1.05),(5.58,0.58),(5.70,0.60),(5.86,0.58),(6.00,0.58),(6.12,0.55),
(6.28,0.60),(6.40,0.59),(6.60,0.63),(5.66,0.86),(5.80,0.83),(5.96,0.81),(6.08,0.84),(6.22,0.81),(6.36,0.86),(6.48,0.84),
(5.30,0.70),(5.18,0.72),(5.06,0.76),(6.72,0.70),(6.84,0.75),(6.96,0.80),
]
c_more = [
(3.80,1.33),(3.88,1.39),(3.96,1.27),(4.04,1.33),(4.12,1.21),(4.18,1.28),(4.28,1.14),(4.32,1.24),(4.40,1.10),(4.46,1.20),
(4.54,1.04),(4.58,1.12),(4.66,1.00),(4.72,1.05),(4.78,0.95),(4.82,1.05),(4.88,0.92),(4.94,1.02),(5.02,0.85),(5.08,0.98),
(5.14,0.88),(5.22,0.94),(5.28,0.83),(5.34,0.90),(5.42,0.69),(5.46,0.86),(5.52,0.63),
(6.62,0.84),(6.68,0.74),(6.74,0.88),(6.80,0.78),(6.88,0.92),(6.94,0.85),(7.00,0.89),(7.06,0.97),(7.12,0.93),(7.18,1.04),
(7.24,0.95),(7.32,1.08),(7.38,1.02),(7.44,1.11),(7.50,1.08),(7.56,1.17),(7.62,1.12),(7.68,1.21),(7.74,1.19),(7.80,1.28),
(7.86,1.23),(7.92,1.31),(7.98,1.26),(8.06,1.36),(8.12,1.31),(8.18,1.36),(8.28,1.43),(8.36,1.39),
(5.50,0.60),(5.62,0.56),(5.76,0.55),(5.92,0.52),(6.04,0.50),(6.18,0.53),(6.32,0.55),(6.46,0.60),(6.56,0.65),(5.64,0.83),
(5.78,0.80),(5.92,0.77),(6.06,0.77),(6.20,0.79),(6.32,0.80),(6.44,0.82),(6.56,0.86),(6.12,0.88),(5.88,0.85),
]

# ---------------- Panel D (K=12) ----------------
d_main = [
(2.01,0.04),(2.23,0.25),(2.35,0.25),(2.29,0.37),(2.46,0.33),(2.42,0.52),(2.54,0.49),(2.56,0.46),(2.62,0.62),(2.75,0.57),
(2.71,0.42),(2.66,0.55),(2.79,0.73),(2.87,0.69),(2.84,0.52),(2.90,0.80),(2.95,0.89),(2.93,0.66),(3.02,0.73),(3.11,0.73),
(2.99,1.00),(3.05,1.13),(3.00,0.95),(3.08,0.92),(3.11,1.26),(3.14,1.05),(3.18,1.04),(3.16,0.88),(3.22,1.12),(3.26,1.18),
(3.30,1.15),(3.35,1.20),(3.39,1.09),(3.42,1.19),(3.31,1.40),(3.38,1.38),(3.43,1.37),(3.48,1.42),(3.53,1.49),(3.57,1.47),
(3.60,1.52),(3.65,1.55),(3.63,1.44),(3.66,1.70),(3.70,1.66),(3.75,1.64),(3.73,1.58),(3.78,1.73),(3.83,1.79),(3.80,1.69),
(3.86,1.85),(3.90,1.88),(3.88,1.77),(3.95,1.97),(3.93,1.90),(4.03,1.79),(3.99,2.12),(4.00,2.03),(4.05,2.05),(4.08,2.14),
(4.12,2.10),(4.15,2.20),(4.19,1.99),(4.18,2.15),(4.22,2.24),(4.27,2.19),(4.25,2.30),(4.30,2.27),(4.34,2.33),(4.39,2.32),
(4.37,2.38),(4.42,2.36),(4.46,2.42),(4.50,2.40),(4.55,2.43),(4.53,2.49),(4.58,2.51),(4.62,2.48),(4.65,2.56),(4.68,2.53),
(4.71,2.59),(4.74,2.64),(4.78,2.62),(4.80,2.70),(4.84,2.67),(4.87,2.79),(4.90,2.72),(4.93,2.77),(4.96,2.74),(5.00,2.81),
(5.03,2.78),(5.06,2.84),(5.10,2.82),(5.11,2.90),(5.15,2.86),(5.18,2.89),(5.22,2.85),(5.25,2.92),(5.28,2.89),(5.32,2.95),
(5.36,2.93),(5.39,2.88),(5.42,2.97),(5.46,2.94),(5.50,2.99),(5.53,2.95),(5.56,3.00),(5.60,2.97),(5.63,3.02),(5.66,2.98),
(5.68,3.04),(5.72,3.00),(5.75,3.05),(5.78,2.98),(5.81,3.03),(5.84,3.11),(5.86,3.04),(5.89,2.99),(5.92,3.06),(5.95,3.02),
(5.98,3.05),(6.01,2.97),(6.04,3.04),(6.07,3.01),(6.10,3.06),(6.13,2.95),(6.16,3.05),(6.19,3.02),(6.22,3.07),(6.25,2.99),
(6.28,3.04),(6.32,3.07),(6.30,2.94),(6.35,3.01),(6.38,3.05),(6.41,2.97),(6.44,3.02),(6.47,2.94),(6.50,2.99),(6.53,3.03),
(6.56,2.95),(6.59,2.91),(6.62,2.98),(6.65,2.93),(6.68,2.89),(6.72,2.92),(6.75,2.86),(6.78,2.90),(6.82,2.83),(6.85,2.87),
(6.88,2.80),(6.92,2.84),(6.95,2.77),(6.99,2.80),(7.04,2.77),(7.02,2.72),(7.07,2.74),(7.10,2.68),(7.14,2.71),(7.17,2.64),
(7.20,2.68),(7.24,2.60),(7.28,2.63),(7.31,2.56),(7.35,2.59),(7.38,2.51),(7.42,2.54),(7.45,2.47),(7.49,2.50),(7.52,2.46),
(7.55,2.40),(7.58,2.44),(7.61,2.36),(7.64,2.39),(7.68,2.32),(7.66,2.26),(7.71,2.28),(7.74,2.22),(7.77,2.25),(7.80,2.17),
(7.84,2.15),(7.82,2.09),(7.87,2.11),(7.90,2.05),(7.93,2.08),(7.96,1.99),(8.00,2.02),(8.03,1.93),(8.06,1.96),(8.09,1.88),
(8.12,1.91),(8.16,1.79),(8.14,1.85),(8.19,1.82),(8.22,1.75),(8.25,1.78),(8.28,1.69),(8.31,1.66),(8.34,1.21),(8.35,1.72),
(8.38,1.62),(8.40,1.77),(8.42,1.57),(8.44,1.65),(8.46,1.50),(8.48,1.44),(8.50,1.60),(8.53,1.53),(8.56,1.67),(8.55,1.42),
(8.58,1.35),(8.60,1.49),(8.63,1.31),(8.64,1.11),(8.66,1.42),(8.68,1.26),(8.68,1.44),(8.72,1.10),(8.71,1.20),(8.76,1.39),
(8.78,1.15),(8.82,1.08),(8.85,1.12),(8.88,1.15),(8.88,1.04),(8.88,0.95),(8.92,0.87),(8.95,1.00),(8.98,0.82),(9.04,0.64),
(9.06,0.76),(9.12,0.71),(9.16,0.74),(9.20,0.78),(9.24,0.70),(9.30,0.58),(9.36,0.62),(9.26,0.43),(9.36,0.47),(9.33,0.40),
(9.40,0.38),(9.44,0.43),(9.48,0.36),(9.56,0.51),(9.46,0.27),(9.52,0.33),(9.56,0.30),(9.60,0.19),(9.94,0.18),(10.11,0.04),
(10.26,0.00),(10.53,0.00),(10.88,0.00),
]
d_fill = [
(4.02,1.95),(4.10,2.05),(4.20,2.12),(4.32,2.22),(4.44,2.33),(4.57,2.44),(4.70,2.53),(4.82,2.62),(4.95,2.70),(5.08,2.78),
(5.20,2.83),(5.34,2.88),(5.48,2.92),(5.62,2.95),(5.76,2.96),(5.90,3.00),(6.05,2.99),(6.20,2.98),(6.34,2.96),(6.48,2.90),
(6.62,2.86),(6.76,2.82),(6.90,2.75),(7.05,2.69),(7.19,2.58),(7.33,2.50),(7.47,2.42),(7.62,2.30),(7.76,2.19),(7.90,2.00),
(8.04,1.88),(8.18,1.73),(8.32,1.60),(8.45,1.70),(8.52,1.38),(3.85,1.72),(3.72,1.61),(3.58,1.41),(3.46,1.33),(4.47,2.46),
(4.60,2.55),(4.85,2.72),(5.13,2.93),(5.40,2.99),(5.70,2.95),(6.00,3.08),(6.27,3.08),(6.55,3.00),(6.80,2.93),(7.08,2.78),
(7.35,2.64),(7.60,2.47),(7.86,2.24),(8.10,1.98),(8.26,1.85),
]
d_lower = [
(4.10,2.02),(4.18,2.08),(4.26,2.14),(4.34,2.22),(4.42,2.28),(4.50,2.34),(4.58,2.42),(4.66,2.48),(4.74,2.54),(4.82,2.60),
(4.90,2.64),(4.98,2.69),(5.06,2.74),(5.14,2.77),(5.22,2.80),(5.30,2.83),(5.38,2.85),(5.46,2.86),(5.54,2.88),(5.62,2.89),
(5.70,2.90),(5.78,2.91),(5.86,2.90),(5.94,2.92),(6.02,2.90),(6.10,2.91),(6.18,2.89),(6.26,2.90),(6.34,2.88),(6.42,2.87),
(6.50,2.85),(6.58,2.84),(6.66,2.82),(6.74,2.79),(6.82,2.76),(6.90,2.73),(6.98,2.70),(7.06,2.65),(7.14,2.61),(7.22,2.56),
(7.30,2.51),(7.38,2.45),(7.46,2.39),(7.54,2.33),(7.62,2.27),(7.70,2.21),(7.78,2.13),(7.86,2.06),(7.94,1.98),(8.02,1.90),
(8.10,1.82),(8.18,1.76),(8.26,1.70),
(4.14,2.17),(4.30,2.30),(4.46,2.41),(4.62,2.53),(4.78,2.64),(4.94,2.73),(5.10,2.80),(5.26,2.86),(5.42,2.91),(5.58,2.94),
(5.74,2.96),(5.90,2.97),(6.06,2.96),(6.22,2.95),(6.38,2.93),(6.54,2.90),(6.70,2.86),(6.86,2.80),(7.02,2.74),(7.18,2.65),
(7.34,2.55),(7.50,2.43),(7.66,2.31),(7.82,2.18),(7.98,2.05),(8.14,1.90),
(3.68,1.62),(3.76,1.68),(3.84,1.82),(3.92,1.84),(3.97,2.02),(3.62,1.58),(3.56,1.52),(3.50,1.40),(3.45,1.47),(8.20,1.70),
(8.30,1.74),(8.36,1.56),(8.42,1.70),(8.50,1.50),(8.58,1.55),(8.62,1.40),(8.70,1.33),(8.74,1.28),(8.80,1.22),(8.86,1.08),
]

# layout geometry (pixels)
PW, PH = 459, 325
GAP = 39


def make_panel(points, yticks, yfmt, xr, yr, borders, klabel, label_y):
    left, right, top, bottom = borders
    p = figure(width=PW, height=PH, output_backend="svg", toolbar_location=None,
               x_range=Range1d(*xr), y_range=Range1d(*yr),
               min_border_left=left, min_border_right=right,
               min_border_top=top, min_border_bottom=bottom)
    p.background_fill_color = BG
    p.border_fill_color = BG
    p.outline_line_color = None

    xs = [pt[0] for pt in points]
    ys = [pt[1] for pt in points]
    src = ColumnDataSource(data=dict(x=xs, y=ys))
    p.scatter(x="x", y="y", source=src, size=6.3, fill_color=DOT,
              line_color=None)

    p.xgrid.visible = False
    p.ygrid.ticker = FixedTicker(ticks=yticks)
    p.ygrid.grid_line_color = "white"
    p.ygrid.grid_line_width = 2

    xa = p.xaxis[0]
    xa.ticker = FixedTicker(ticks=x_ticks)
    xa.axis_line_color = "#333333"
    xa.axis_line_width = 1.2
    xa.major_tick_line_color = "#333333"
    xa.major_tick_in = 5
    xa.major_tick_out = 0
    xa.minor_tick_line_color = None
    xa.major_label_standoff = 3
    xa.major_label_text_font = FONT
    xa.major_label_text_font_size = "16px"
    xa.major_label_text_color = "#1a1a1a"

    ya = p.yaxis[0]
    ya.ticker = FixedTicker(ticks=yticks)
    ya.formatter = PrintfTickFormatter(format=yfmt)
    ya.axis_line_color = None
    ya.major_tick_line_color = None
    ya.minor_tick_line_color = None
    ya.major_tick_in = 0
    ya.major_tick_out = 0
    ya.major_label_standoff = 5
    ya.major_label_text_font = FONT
    ya.major_label_text_font_size = "16px"
    ya.major_label_text_color = "#1a1a1a"

    for lx, txt in ((3, klabel), (9, items_label)):
        p.add_layout(Label(x=lx, y=label_y, text=txt, text_align="center",
                           text_baseline="middle", text_font=FONT,
                           text_font_size="16px", text_color="#111111",
                           background_fill_color="white",
                           border_line_color="#444444", border_line_width=1,
                           padding=(4, 2), border_radius=3))
    return p


pA = make_panel(a_main + a_core + a_fill + a_more, y_ticks_ab, "%.1f",
                (1.5745, 11.3205), (-0.0685, 1.5685), (57, 10, 14, 48), k_labels[0], 1.5)
pB = make_panel(b_main + b_core + b_fill + b_more, y_ticks_ab, "%.1f",
                (1.566, 11.312), (-0.0685, 1.5685), (56, 11, 14, 48), k_labels[1], 1.5)
pC = make_panel(c_main + c_fill + c_core + c_more, y_ticks_cd, "%d",
                (1.566, 11.323), (-0.159, 3.163), (43, 10, 20, 47), k_labels[2], 3)
pD = make_panel(d_main + d_fill + d_lower, y_ticks_cd, "%d",
                (1.582, 11.315), (-0.163, 3.256), (43, 11, 20, 47), k_labels[3], 3)


def letter(txt, w, h, pad_top, pad_left):
    html = ('<div style="font-family:\'Liberation Sans\',Arial,sans-serif;'
            'font-weight:bold;font-size:15px;line-height:17px;color:#000;'
            'margin:0;padding-top:%dpx;padding-left:%dpx;">%s</div>' % (pad_top, pad_left, txt))
    return Div(text=html, width=w, height=h, margin=0)


top_row = row(letter(panel_letters[0], PW + GAP, 31, 5, 5),
              letter(panel_letters[1], PW, 31, 5, 5), spacing=0)
mid_row = row(letter(panel_letters[2], PW + GAP, 62, 32, 5),
              letter(panel_letters[3], PW, 62, 32, 5), spacing=0)
layout = column(top_row,
                row(pA, pB, spacing=GAP),
                mid_row,
                row(pC, pD, spacing=GAP),
                spacing=0)

open("out.html", "w").write(file_html(layout, INLINE))
